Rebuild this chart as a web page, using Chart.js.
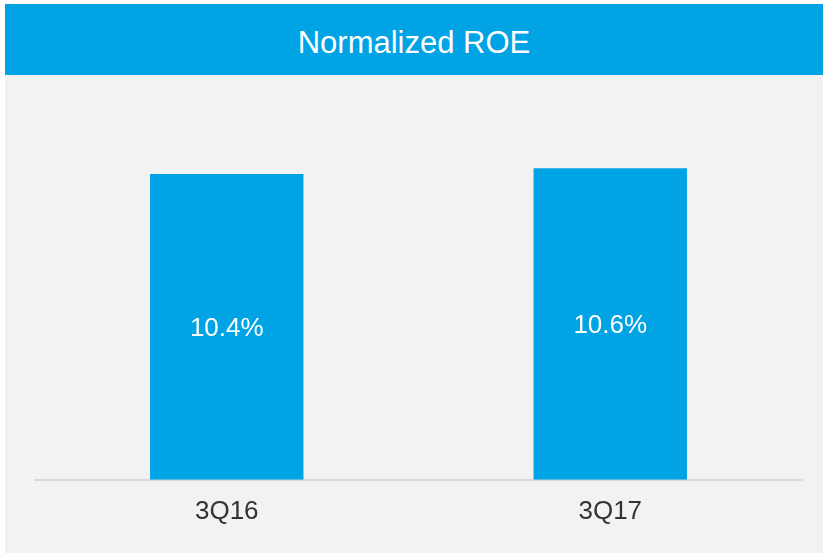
<!DOCTYPE html>
<html>
<head>
<meta charset="utf-8">
<script src="https://cdn.jsdelivr.net/npm/chart.js@4"></script>
<style>
    html, body { margin: 0; padding: 0; background: #ffffff; }
    #panel { position: absolute; left: 5px; top: 4px; width: 818px; height: 549px; background: #f2f2f2; }
    #title { height: 71px; background: #00a3e3; color: #ffffff; font-family: "Liberation Sans", Arial, sans-serif;
             font-size: 31px; line-height: 78px; text-align: center; }
    #wrap { position: relative; width: 818px; height: 478px; }
</style>
</head>
<body>
<div id="panel">
    <div id="title">Normalized ROE</div>
    <div id="wrap"><canvas id="roe-chart"></canvas></div>
</div>
<script>
"use strict";

const categories = ['3Q16', '3Q17'];
const roeValues = [10.4, 10.6];

// draw the % value in the middle of each bar
const barLabels = {
    id: 'barLabels',
    afterDatasetsDraw(chart) {
        const ctx = chart.ctx;
        const meta = chart.getDatasetMeta(0);
        ctx.save();
        ctx.fillStyle = '#ffffff';
        ctx.font = '26px "Liberation Sans", Arial, sans-serif';
        ctx.textAlign = 'center';
        ctx.textBaseline = 'middle';
        meta.data.forEach((bar, i) => {
            const mid = (bar.y + bar.base) / 2;
            ctx.fillText(roeValues[i].toFixed(1) + '%', bar.x, mid + 2);
        });
        ctx.restore();
    }
};

const ctx = document.getElementById('roe-chart').getContext('2d');

new Chart(ctx, {
    type: 'bar',
    data: {
        labels: categories,
        datasets: [{
            data: roeValues,
            backgroundColor: '#00a3e3',
            barPercentage: 0.4,
            categoryPercentage: 1.0
        }]
    },
    options: {
        responsive: true,
        maintainAspectRatio: false,
        animation: false,
        layout: {
            padding: { left: 30, right: 21, top: 52, bottom: 10 }
        },
        plugins: {
            legend: { display: false },
            title: { display: false },
            tooltip: { enabled: false }
        },
        scales: {
            x: {
                grid: { display: false, drawTicks: false },
                border: { display: true, color: '#d9d9d9', width: 2 },
                ticks: {
                    padding: 16,
                    color: '#333333',
                    font: { family: '"Liberation Sans", Arial, sans-serif', size: 26 }
                }
            },
            y: {
                display: false,
                min: 0,
                max: 12
            }
        }
    },
    plugins: [barLabels]
});
</script>
</body>
</html>
